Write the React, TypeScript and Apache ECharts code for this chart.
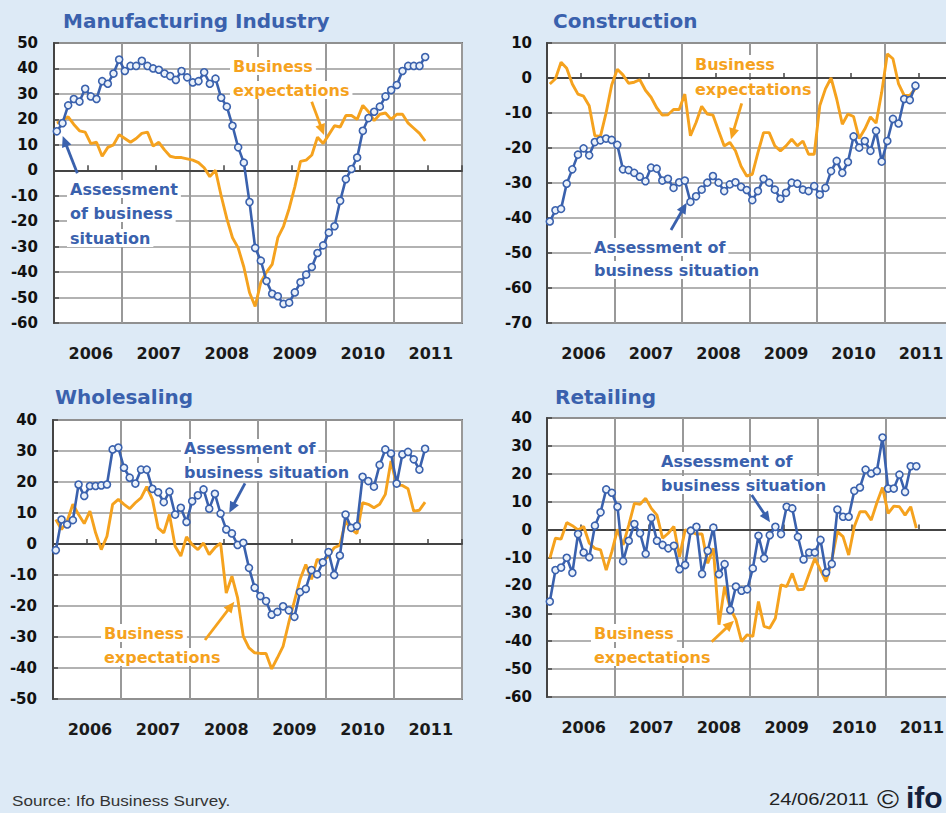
import React, { useEffect, useRef } from 'react';
import * as echarts from 'echarts';

// ---- categories ----
const years = ['2006', '2007', '2008', '2009', '2010', '2011'];
const monthCategories = years.flatMap((y) =>
  Array.from({ length: 12 }, (_, m) => `${y}-${String(m + 1).padStart(2, '0')}`)
);

// ---- panel titles and y ranges ----
const panelTitles = ['Manufacturing Industry', 'Construction', 'Wholesaling', 'Retailing'];
const yMins = [-60, -70, -50, -60];
const yMaxs = [50, 10, 40, 40];

// ---- data: Jan 2006 .. Jun 2011 (monthly balances) ----
const mfgSituation = [15.3, 18.5, 25.5, 28, 27, 32, 29, 28, 35, 34, 38, 43.5, 39, 41, 41, 43, 41, 40, 39.5, 38, 37, 35.5, 39, 36.5, 34.5, 35, 38.5, 34, 36, 28.5, 25, 17.5, 9, 3, -12.5, -30.5, -35.5, -43.5, -48.5, -49.5, -52.5, -52, -48, -44, -41, -38, -32.5, -29.5, -24.5, -22, -12, -3.5, 0.5, 5, 15.5, 20.5, 23, 25, 29, 31.5, 33.5, 39, 41, 41, 41, 44.5];
const mfgExpect = [18.5, 19.5, 21, 18, 15.5, 15, 10.5, 11, 5.5, 9, 10, 14, 12.5, 11, 12.5, 14.5, 15, 9.5, 11, 8, 5.5, 5, 5, 4.5, 4, 3, 1, -2.5, 0, -10, -19, -26.5, -30.5, -38, -48, -53.5, -44, -40, -37, -26.5, -22, -15, -6.5, 3.5, 4, 6, 13, 10.5, 14, 17.5, 17, 21.5, 21.5, 20, 25.5, 23, 19.5, 22, 22.5, 20, 22, 22, 18.5, 16.5, 14.5, 11.5];

const conSituation = [-41, -37.8, -37.4, -30.2, -26.1, -21.9, -20.1, -22.1, -18.3, -17.8, -17.3, -17.7, -19.1, -26.1, -26.3, -27.1, -28.2, -29.5, -25.6, -25.9, -29.3, -28.8, -31.4, -29.8, -29.3, -35.4, -33.8, -31.9, -29.9, -28, -29.9, -32.3, -30.4, -29.8, -31.1, -32, -34.9, -32.3, -28.8, -29.9, -31.9, -34.5, -32.8, -29.9, -30.2, -31.9, -32.3, -30.9, -33.3, -31.4, -26.6, -23.7, -27.1, -24, -16.7, -19.9, -18, -20.8, -15.1, -23.9, -18, -11.7, -13, -6, -6.3, -2.2];
const conExpect = [-1.7, -0.2, 4.5, 2.8, -1.7, -4.6, -5.2, -7.9, -16.5, -16.7, -10, -2, 2.5, 0.9, -1.5, -1.2, -0.5, -3.5, -5.5, -8.5, -10.6, -10.5, -9, -9, -4.6, -16.5, -12.7, -8.1, -10.3, -10.6, -15.1, -19.4, -18.4, -20.8, -25.2, -28, -27.5, -21.3, -15.6, -15.6, -19.4, -20.8, -19.4, -17.5, -19.4, -18, -21.8, -21.8, -7.9, -3.1, 0, -6, -13.2, -10.3, -11, -17.3, -14.6, -11.1, -12.9, -4.1, 6.9, 5.5, -1.7, -5, -5, -3];

const whSituation = [-2, 7.9, 6.3, 7.7, 19.2, 15.5, 18.7, 18.7, 18.9, 19.2, 30.5, 31.1, 24.6, 21.4, 19.5, 24, 24, 17.8, 16.7, 13.5, 16.9, 9.5, 11.7, 7.1, 13.8, 15.7, 17.6, 11.4, 16.2, 9.8, 4.7, 3.4, -0.3, 0.4, -7.7, -14.1, -16.8, -18.4, -22.8, -21.9, -20.1, -21.4, -23.5, -15.5, -14.5, -8.4, -9.8, -5.9, -2.6, -10, -3.7, 9.5, 5.2, 5.8, 21.7, 20.3, 18.5, 25.5, 30.5, 29.2, 19.5, 28.9, 29.7, 27.3, 24, 30.7];
const whExpect = [7.9, 4.7, 7.4, 12.8, 9.5, 6.6, 10.6, 3.6, -1.8, 2.5, 12.8, 14.4, 12.8, 11.4, 13.3, 14.9, 18.5, 14.4, 5.2, 3.6, 9.5, -0.7, -3.9, 2.3, -0.2, -1.8, 0.3, -3.4, -1.2, 0.3, -15.8, -10.4, -17.4, -29.8, -33.5, -35.1, -35.3, -35.3, -40.3, -36.7, -33, -25.4, -18.4, -11.4, -6.6, -11.4, -5, -5.5, -3.9, -1.2, -0.4, 7.4, 4.7, 3.4, 13.3, 12.8, 11.7, 12.8, 16, 26.8, 18.9, 18.9, 17.8, 10.6, 10.9, 13.5];

const rtSituation = [-25.8, -14.5, -13.6, -10.1, -15.5, -1.6, -8.2, -9.9, 1.4, 6.2, 14.4, 13.2, 8.2, -11.3, -4, 2, -1.3, -8.7, 4.2, -4, -5.5, -6.7, -5.8, -14.2, -12.7, -0.4, 1, -15.9, -7.6, 0.7, -16, -12.4, -28.8, -20.4, -21.9, -21.4, -13.9, -2.2, -10.3, -2, 1, -1.6, 8.2, 7.6, -2.6, -10.7, -8.2, -8.2, -3.7, -15.4, -12.3, 7.2, 4.6, 4.6, 13.9, 15.1, 21.5, 20.1, 21, 33, 14.7, 14.7, 19.7, 13.5, 22.7, 22.7];
const rtExpect = [-10.3, -3.1, -3.4, 2.5, 1.4, -0.1, 1.1, -4.9, -6.7, -7.3, -14.5, -7.9, 0.1, -5.5, 1.6, 9.4, 9.1, 11.2, 7.6, 5.2, -3.1, -1.3, 1.1, -9.7, -0.1, -0.7, -1.6, -1.6, -12.1, -6.7, -34.1, -20.4, -28.2, -32.3, -40.1, -37.7, -38.3, -25.8, -34.7, -35.3, -31.8, -19.8, -20.4, -15.7, -21.6, -21.4, -15.7, -10.3, -14.5, -18.6, -10.9, -0.7, -2.5, -9.1, 1.1, 6.4, 6.4, 3.4, 9.6, 15.1, 5.8, 8.4, 8.2, 5.2, 8.2, 0.5];

const situationSeries = [mfgSituation, conSituation, whSituation, rtSituation];
const expectSeries = [mfgExpect, conExpect, whExpect, rtExpect];

const labelSituationName = 'Assessment of business situation';
const labelExpectName = 'Business expectations';

// ---- styling ----
const BLUE = '#3A61AD';
const ORANGE = '#F5A21E';
const BG = '#DDEAF6';
const FONT = '"DejaVu Sans", Verdana, sans-serif';

const grids = [
  { left: 54, top: 43, width: 408, height: 280 },
  { left: 547, top: 43, width: 405, height: 280 },
  { left: 53, top: 420, width: 409, height: 279 },
  { left: 547, top: 418, width: 406, height: 279 },
];
const yLabelMargins = [16, 15, 16, 15];
const titlePos = [
  [63, 21],
  [553, 21],
  [55, 397],
  [555, 397],
];

function arrow(x1: number, y1: number, x2: number, y2: number, color: string) {
  const dx = x2 - x1;
  const dy = y2 - y1;
  const L = Math.hypot(dx, dy);
  const ux = dx / L;
  const uy = dy / L;
  const hl = 11;
  const hw = 5;
  const bx = x2 - ux * hl;
  const by = y2 - uy * hl;
  const px = -uy;
  const py = ux;
  return [
    {
      type: 'line',
      z: 6,
      shape: { x1, y1, x2: bx + ux * 2, y2: by + uy * 2 },
      style: { stroke: color, lineWidth: 2.8 },
    },
    {
      type: 'polygon',
      z: 6,
      shape: {
        points: [
          [x2, y2],
          [bx + px * hw, by + py * hw],
          [bx - px * hw, by - py * hw],
        ],
      },
      style: { fill: color },
    },
  ];
}

function note(text: string, x: number, y: number, color: string) {
  return {
    type: 'text',
    x: x - 3,
    y,
    z: 1,
    style: {
      text,
      fill: color,
      fontSize: 16,
      fontWeight: 'bold',
      fontFamily: FONT,
      verticalAlign: 'middle',
      align: 'left',
      backgroundColor: '#ffffff',
      padding: [1, 3, 1, 3],
    },
  };
}

function buildOption() {
  const xAxis = grids.map((_, k) => ({
    type: 'category',
    gridIndex: k,
    data: monthCategories,
    boundaryGap: true,
    axisLine: { show: true, lineStyle: { color: '#444', width: 2 } },
    axisTick: {
      show: true,
      inside: true,
      length: 5,
      interval: (i: number) => i % 12 === 6,
      lineStyle: { color: '#444', width: 1.5 },
    },
    axisLabel: {
      interval: (i: number) => i % 12 === 6,
      formatter: (v: string) => v.slice(0, 4),
      margin: 22,
      color: '#1a1a1a',
      fontFamily: FONT,
      fontWeight: 'bold',
      fontSize: 16,
    },
    splitLine: {
      show: true,
      interval: (i: number) => i % 12 === 0,
      lineStyle: { color: '#999', width: 2 },
    },
  }));

  const yAxis = grids.map((_, k) => ({
    type: 'value',
    gridIndex: k,
    min: yMins[k],
    max: yMaxs[k],
    interval: 10,
    axisLine: { show: true, lineStyle: { color: '#444', width: 2 } },
    axisTick: { show: true, inside: true, length: 5, lineStyle: { color: '#444', width: 1.5 } },
    axisLabel: {
      margin: yLabelMargins[k],
      color: '#111',
      fontFamily: FONT,
      fontWeight: 'bold',
      fontSize: 15,
    },
    splitLine: { show: true, lineStyle: { color: '#999', width: 1.5 } },
  }));

  const series: any[] = [];
  grids.forEach((_, k) => {
    series.push({
      type: 'line',
      name: labelExpectName,
      xAxisIndex: k,
      yAxisIndex: k,
      data: expectSeries[k],
      symbol: 'none',
      lineStyle: { color: ORANGE, width: 2.9 },
      itemStyle: { color: ORANGE },
      z: 3,
    });
    series.push({
      type: 'line',
      name: labelSituationName,
      xAxisIndex: k,
      yAxisIndex: k,
      data: situationSeries[k],
      symbol: 'circle',
      symbolSize: 7,
      showAllSymbol: true,
      lineStyle: { color: BLUE, width: 2.6 },
      itemStyle: { color: '#EAF1FA', borderColor: BLUE, borderWidth: 1.6 },
      z: 4,
    });
  });

  const graphic: any[] = [];
  panelTitles.forEach((t, k) => {
    graphic.push({
      type: 'text',
      x: titlePos[k][0],
      y: titlePos[k][1],
      z: 7,
      style: {
        text: t,
        fill: BLUE,
        fontSize: 20,
        fontWeight: 'bold',
        fontFamily: FONT,
        verticalAlign: 'middle',
      },
    });
  });

  // Manufacturing annotations
  graphic.push(note('Business', 233, 66, ORANGE));
  graphic.push(note('expectations', 233, 90, ORANGE));
  graphic.push(...arrow(311.7, 101.7, 324, 135, ORANGE));
  graphic.push(note('Assessment', 70, 189, BLUE));
  graphic.push(note('of business', 70, 213, BLUE));
  graphic.push(note('situation', 70, 238, BLUE));
  graphic.push(...arrow(77.3, 173.3, 62.7, 136, BLUE));

  // Construction annotations
  graphic.push(note('Business', 695, 64, ORANGE));
  graphic.push(note('expectations', 695, 89, ORANGE));
  graphic.push(...arrow(741.7, 103.3, 731, 139.3, ORANGE));
  graphic.push(note('Assessment of', 594, 247, BLUE));
  graphic.push(note('business situation', 594, 270, BLUE));
  graphic.push(...arrow(671, 230, 686.7, 202.7, BLUE));

  // Wholesaling annotations
  graphic.push(note('Assessment of', 184, 448, BLUE));
  graphic.push(note('business situation', 184, 472, BLUE));
  graphic.push(...arrow(245, 483.3, 229.3, 512.7, BLUE));
  graphic.push(note('Business', 104, 633, ORANGE));
  graphic.push(note('expectations', 104, 657, ORANGE));
  graphic.push(...arrow(205, 640, 234.3, 601.7, ORANGE));

  // Retailing annotations
  graphic.push(note('Assessment of', 661, 461, BLUE));
  graphic.push(note('business situation', 661, 485, BLUE));
  graphic.push(...arrow(751.7, 495, 770, 522.3, BLUE));
  graphic.push(note('Business', 594, 633, ORANGE));
  graphic.push(note('expectations', 594, 657, ORANGE));
  graphic.push(...arrow(711.7, 641.7, 734, 620.7, ORANGE));

  // Footer
  graphic.push({
    type: 'text',
    x: 12,
    y: 800,
    scaleX: 1.14,
    z: 7,
    style: {
      text: 'Source: Ifo Business Survey.',
      fill: '#333',
      fontSize: 15,
      fontFamily: '"Liberation Sans", Arial, sans-serif',
      verticalAlign: 'middle',
    },
  });
  graphic.push({
    type: 'text',
    x: 769,
    y: 799,
    scaleX: 1.19,
    z: 7,
    style: {
      text: '24/06/2011',
      fill: '#222',
      fontSize: 17,
      fontFamily: '"Liberation Sans", Arial, sans-serif',
      verticalAlign: 'middle',
    },
  });
  graphic.push({
    type: 'text',
    x: 877,
    y: 799,
    scaleX: 1.15,
    z: 7,
    style: {
      text: '©',
      fill: '#222',
      fontSize: 26,
      fontFamily: '"Liberation Sans", Arial, sans-serif',
      verticalAlign: 'middle',
    },
  });
  graphic.push({
    type: 'text',
    x: 906,
    y: 797,
    z: 7,
    style: {
      text: 'ifo',
      fill: '#14213D',
      fontSize: 30,
      fontWeight: 'bold',
      fontFamily: '"Liberation Sans", Arial, sans-serif',
      verticalAlign: 'middle',
    },
  });

  return {
    animation: false,
    backgroundColor: BG,
    grid: grids.map((g) => ({
      ...g,
      show: true,
      backgroundColor: '#ffffff',
      borderColor: '#777',
      borderWidth: 2,
      containLabel: false,
    })),
    xAxis,
    yAxis,
    series,
    graphic,
  };
}

export default function App() {
  const ref = useRef<HTMLDivElement>(null);
  useEffect(() => {
    if (!ref.current) return;
    const chart = echarts.init(ref.current, undefined, { renderer: 'svg' });
    chart.setOption(buildOption() as any);
    return () => chart.dispose();
  }, []);
  return (
    <div
      style={{
        position: 'fixed',
        left: 0,
        top: 0,
        width: 946,
        height: 813,
        overflow: 'hidden',
        background: BG,
      }}
    >
      <div ref={ref} style={{ width: 960, height: 813 }} />
    </div>
  );
}
